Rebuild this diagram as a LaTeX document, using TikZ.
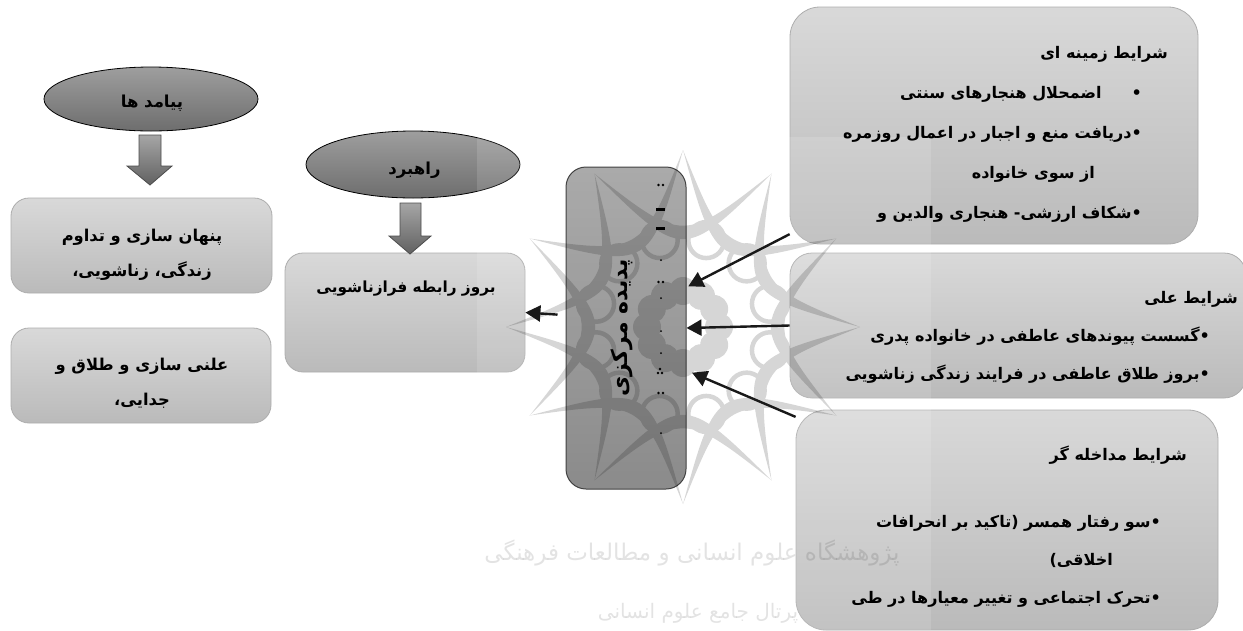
\documentclass[tikz,border=0pt]{standalone}
\usepackage{fontspec}
\usepackage{tikz}
\usetikzlibrary{shapes.geometric,arrows.meta}
\TeXXeTstate=1
\newfontfamily\arabicfont[Script=Arabic]{DejaVu Sans}
\newcommand{\fa}[1]{{\arabicfont\bfseries\beginR #1\endR}}
\newcommand{\falight}[1]{{\arabicfont\beginR #1\endR}}
\definecolor{boxtop}{gray}{0.85}
\definecolor{boxbot}{gray}{0.73}
\definecolor{boxline}{gray}{0.68}
\tikzset{
  graybox/.style={draw=boxline,line width=0.8pt,rounded corners=#1,top color=boxtop,bottom color=boxbot,inner sep=0pt},
  graybox/.default=18pt,
  darkbox/.style={draw=black!85,line width=1pt,rounded corners=20pt,top color=black!38,bottom color=black!52,inner sep=0pt},
  topic/.style={ellipse,draw=black,line width=0.8pt,top color=black!38,bottom color=black!57,inner sep=0pt},
  blockarrow/.style={draw=black!70,line width=0.8pt,top color=black!35,bottom color=black!62},
  boxtext/.style={align=right,inner sep=0pt},
  marktext/.style={text=black,opacity=.11},
  conn/.style={draw=black!90,line width=2.4pt,-{Triangle[length=15pt,width=16pt]}}
}
\begin{document}
\begin{tikzpicture}[x=1pt,y=-1pt]
  \useasboundingbox (0,0) rectangle (1243,630);
  \clip (0,0) rectangle (1243,630);
  % boxes on the right
  \node[graybox=30pt,minimum width=408pt,minimum height=237pt] (zaminebox) at (994,125.5) {};
  \node[graybox=22pt,minimum width=456pt,minimum height=145pt] (alibox) at (1018,325.5) {};
  \node[graybox=30pt,minimum width=422pt,minimum height=220pt] (modakhelebox) at (1007,520) {};
  \node[darkbox,minimum width=120pt,minimum height=322pt] (markazbox) at (626,328) {};
  % boxes on the left
  \node[graybox,minimum width=240pt,minimum height=119pt] (borozbox) at (405,312.5) {};
  \node[graybox,minimum width=261pt,minimum height=95pt] (penhanbox) at (141.5,245.5) {};
  \node[graybox,minimum width=260pt,minimum height=95pt] (alanibox) at (141,375.5) {};
  \node[topic,minimum width=214pt,minimum height=64pt] (payamad) at (151,99) {};
  \node[topic,minimum width=214pt,minimum height=67pt] (rahbord) at (413,164.5) {};
  % block arrows
  \path[blockarrow] (139,135) -- (161,135) -- (161,166) -- (172,166) -- (150,185)
    -- (127,166) -- (139,166) -- cycle;
  \path[blockarrow] (400,203) -- (421,203) -- (421,236) -- (431,236) -- (410,254)
    -- (389,236) -- (400,236) -- cycle;

  % watermark
  \fill[white,opacity=.13] (477,137) rectangle (931,630);
  \begin{scope}[shift={(683,327)},black,transparency group,opacity=.16]
    \foreach \a in {0,30,...,330} {
      \fill (\a-30:177) .. controls (\a:66) .. (\a+30:177)
        .. controls (\a:84) .. (\a-30:177);
      \draw[line width=4.5pt] (\a+15:90) circle (18pt);
      \fill (\a:36) circle (14pt);
    }
  \end{scope}
  \node[marktext,font=\fontsize{23}{23}\selectfont] (pazhuhesh) at (692,553) {\falight{پژوهشگاه علوم انسانی و مطالعات فرهنگی}};
  \node[marktext,font=\fontsize{20}{20}\selectfont] (portal) at (698,613) {\falight{پرتال جامع علوم انسانی}};

  % arrows
  \draw[conn,shorten >=2pt] (zaminebox.208) -- (markazbox.34);
  \draw[conn] (alibox.west) -- (markazbox.east);
  \draw[conn,shorten >=6pt] (modakhelebox.154) -- (markazbox.-35);
  \draw[conn,shorten <=8pt] (markazbox.168) -- (borozbox.east);

  % texts
  \node[boxtext,anchor=north east,font=\fontsize{16}{40}\selectfont] (zaminetext) at (1168,46) {%
    \fa{شرایط زمینه ای}\\
    \fa{•\kern30pt اضمحلال هنجارهای سنتی}\kern26pt\\
    \fa{•دریافت منع و اجبار در اعمال روزمره}\kern26pt\\
    \fa{از سوی خانواده}\kern73pt\\
    \fa{•شکاف ارزشی- هنجاری والدین و}\kern26pt};
  \node[boxtext,anchor=north east,font=\fontsize{16}{38}\selectfont] (alitext) at (1238,291) {%
    \fa{شرایط علی}\\
    \fa{•گسست پیوندهای عاطفی در خانواده پدری}\kern28pt\\
    \fa{•بروز طلاق عاطفی در فرایند زندگی زناشویی}\kern28pt};
  \node[boxtext,anchor=north east,font=\fontsize{16}{38}\selectfont] (modakheletext) at (1187,446) {%
    \fa{شرایط مداخله گر}\\[29pt]
    \fa{•سو رفتار همسر (تاکید بر انحرافات}\kern26pt\\
    \fa{اخلاقی)}\kern74pt\\
    \fa{•تحرک اجتماعی و تغییر معیارها در طی}\kern26pt};
  \node[boxtext,rotate=90,font=\fontsize{22}{24}\selectfont] (markaztext) at (622,328) {\fa{پدیده مرکزی}};
  \foreach \y in {185,282,393} {
    \fill (658.5,\y) circle (1.3pt) (663,\y) circle (1.3pt);
  }
  \foreach \y in {208,227} {
    \fill (656,\y) rectangle (665,\y+3);
  }
  \foreach \y in {260,298,331,353,433} {
    \fill (661,\y) circle (1pt);
  }
  \fill (658,373) circle (1.3pt) (662,373) circle (1.3pt) (660,369) circle (1.3pt);
  \node[boxtext,font=\fontsize{16.5}{18}\selectfont] (payamadtext) at (152,103) {\fa{پیامد ها}};
  \node[boxtext,font=\fontsize{16.5}{18}\selectfont] (rahbordtext) at (414.5,170) {\fa{راهبرد}};
  \node[boxtext,align=center,font=\fontsize{16.3}{35}\selectfont] (penhantext) at (142,255) {%
    \fa{پنهان سازی و تداوم}\\ \fa{زندگی، زناشویی،}};
  \node[boxtext,align=center,font=\fontsize{16.3}{35}\selectfont] (alanitext) at (142,383) {%
    \fa{علنی سازی و طلاق و}\\ \fa{جدایی،}};
  \node[boxtext,font=\fontsize{15.3}{18}\selectfont] (boroztext) at (406,289) {\fa{بروز رابطه فرازناشویی}};
\end{tikzpicture}
\end{document}
